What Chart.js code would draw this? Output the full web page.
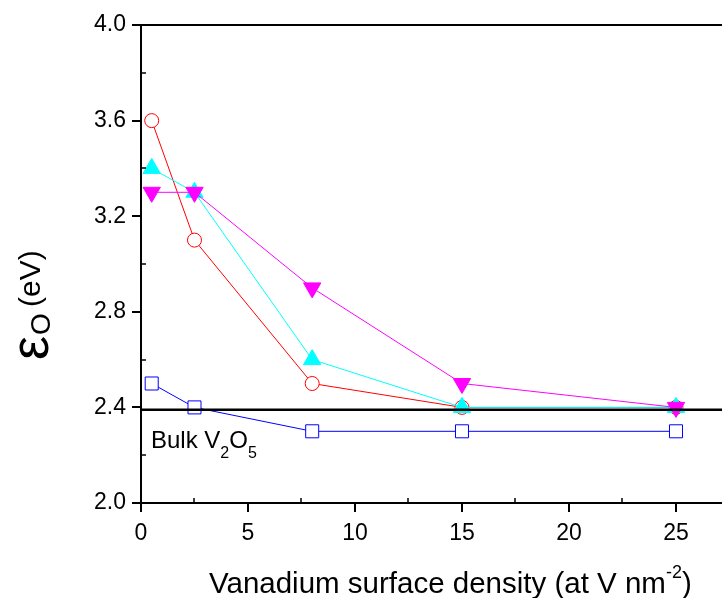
<!DOCTYPE html>
<html>
<head>
<meta charset="utf-8">
<script src="https://cdn.jsdelivr.net/npm/chart.js"></script>
<style>
    html, body { margin: 0; padding: 0; background: #fff; }
    #wrap { width: 722px; height: 598px; }
</style>
</head>
<body>
<div id="wrap"><canvas id="epsChart" width="722" height="598"></canvas></div>
<script>
// 数据：钒表面密度 (at V nm^-2)
const densities = [0.5, 2.5, 8, 15, 25];
// 四组 ε_O (eV) 数值
const redCircles = [3.6, 3.1, 2.5, 2.4, 2.4];
const cyanUp = [3.4, 3.3, 2.6, 2.4, 2.4];
const magentaDown = [3.3, 3.3, 2.9, 2.5, 2.4];
const blueSquares = [2.5, 2.4, 2.3, 2.3, 2.3];
// 体相 V2O5 的参考值
const bulkLevel = [2.39];

// 坐标轴范围和刻度
const xRange = [0, 27.15];
const yRange = [2.0, 4.0];
const xTicks = [0, 5, 10, 15, 20, 25];
const yTicks = [2.0, 2.4, 2.8, 3.2, 3.6, 4.0];
const xMinorTicks = [2.5, 7.5, 12.5, 17.5, 22.5];
const yMinorTicks = [2.2, 2.6, 3.0, 3.4, 3.8];

const FONT = '"Liberation Sans", Arial, sans-serif';

function toPoints(values) {
    return values.map((v, i) => ({ x: densities[i], y: v }));
}

function makeSeries(values, color, style, radius, rotation, fill, order) {
    return {
        data: toPoints(values),
        borderColor: color,
        borderWidth: 1,
        pointStyle: style,
        pointRadius: radius,
        pointRotation: rotation,
        pointBackgroundColor: fill,
        pointBorderColor: color,
        pointBorderWidth: 1,
        tension: 0,
        order: order
    };
}

// 自定义绘制：顶部边框、小刻度、轴标题和 "Bulk V2O5" 标注
const decorPlugin = {
    id: 'decor',
    afterDraw(chart) {
        const ctx = chart.ctx;
        const area = chart.chartArea;
        const xs = chart.scales.x;
        const ys = chart.scales.y;
        ctx.save();

        // 顶部边框
        ctx.strokeStyle = '#000';
        ctx.lineWidth = 2;
        ctx.beginPath();
        ctx.moveTo(area.left - 9, area.top);
        ctx.lineTo(chart.width, area.top);
        ctx.stroke();

        // 小刻度（向内）
        ctx.lineWidth = 1.5;
        ctx.beginPath();
        xMinorTicks.forEach(v => {
            const px = Math.round(xs.getPixelForValue(v));
            ctx.moveTo(px, area.bottom);
            ctx.lineTo(px, area.bottom - 5);
        });
        yMinorTicks.forEach(v => {
            const py = Math.round(ys.getPixelForValue(v));
            ctx.moveTo(area.left, py);
            ctx.lineTo(area.left + 5, py);
        });
        ctx.stroke();

        ctx.fillStyle = '#000';
        ctx.textBaseline = 'alphabetic';
        ctx.textAlign = 'left';

        // Bulk V2O5 标注
        let x = 151;
        ctx.font = '24px ' + FONT;
        ctx.fillText('Bulk V', x, 448);
        x += ctx.measureText('Bulk V').width;
        ctx.font = '16px ' + FONT;
        ctx.fillText('2', x, 458);
        x += ctx.measureText('2').width;
        ctx.font = '24px ' + FONT;
        ctx.fillText('O', x, 448);
        x += ctx.measureText('O').width;
        ctx.font = '16px ' + FONT;
        ctx.fillText('5', x, 458);

        // X 轴标题
        x = 209;
        ctx.font = '29.5px ' + FONT;
        const main = 'Vanadium surface density (at V nm';
        ctx.fillText(main, x, 593);
        x += ctx.measureText(main).width;
        ctx.font = '18px ' + FONT;
        ctx.fillText('-2', x, 578);
        x += ctx.measureText('-2').width;
        ctx.font = '29.5px ' + FONT;
        ctx.fillText(')', x, 593);

        // Y 轴标题（旋转）
        ctx.translate(48, 360);
        ctx.rotate(-Math.PI / 2);
        ctx.font = '54px ' + FONT;
        ctx.fillText('\u03b5', 0, 0);
        let u = ctx.measureText('\u03b5').width + 1;
        ctx.font = '28px ' + FONT;
        ctx.fillText('O', u, 2);
        ctx.font = '30px ' + FONT;
        ctx.fillText('(eV)', u + 28, -8);

        ctx.restore();
    }
};

document.addEventListener('DOMContentLoaded', function() {
    const ctx = document.getElementById('epsChart').getContext('2d');

    new Chart(ctx, {
        type: 'line',
        data: {
            datasets: [
                makeSeries(blueSquares, '#0000ff', 'rect', 9.2, 0, '#ffffff', 4),
                makeSeries(redCircles, '#ff0000', 'circle', 7, 0, '#ffffff', 3),
                makeSeries(cyanUp, '#00ffff', 'triangle', 10, 0, '#00ffff', 2),
                makeSeries(magentaDown, '#ff00ff', 'triangle', 10, 180, '#ff00ff', 1),
                {
                    data: [{ x: xRange[0], y: bulkLevel[0] }, { x: xRange[1], y: bulkLevel[0] }],
                    borderColor: '#000000',
                    borderWidth: 2.5,
                    pointRadius: 0,
                    order: 0
                }
            ]
        },
        options: {
            responsive: false,
            animation: false,
            layout: { autoPadding: false, padding: { top: 25, right: 0, left: 0, bottom: 0 } },
            plugins: {
                legend: { display: false },
                tooltip: { enabled: false }
            },
            scales: {
                x: {
                    type: 'linear',
                    min: xRange[0],
                    max: xRange[1],
                    afterBuildTicks: scale => { scale.ticks = xTicks.map(v => ({ value: v })); },
                    afterFit: scale => {
                        scale.height = 95;
                        scale.paddingLeft = 0;
                        scale.paddingRight = 0;
                    },
                    grid: {
                        drawOnChartArea: false,
                        drawTicks: true,
                        tickLength: 9,
                        color: '#000',
                        lineWidth: 2
                    },
                    border: { display: true, color: '#000', width: 2 },
                    ticks: {
                        color: '#000',
                        font: { family: FONT, size: 23 },
                        padding: 8,
                        maxRotation: 0
                    }
                },
                y: {
                    min: yRange[0],
                    max: yRange[1],
                    afterBuildTicks: scale => { scale.ticks = yTicks.map(v => ({ value: v })); },
                    afterFit: scale => {
                        scale.width = 141;
                        scale.paddingTop = 0;
                        scale.paddingBottom = 0;
                    },
                    grid: {
                        drawOnChartArea: false,
                        drawTicks: true,
                        tickLength: 9,
                        color: '#000',
                        lineWidth: 2
                    },
                    border: { display: true, color: '#000', width: 2 },
                    ticks: {
                        color: '#000',
                        font: { family: FONT, size: 23 },
                        padding: 6,
                        callback: v => Number(v).toFixed(1)
                    }
                }
            }
        },
        plugins: [decorPlugin]
    });
});
</script>
</body>
</html>
